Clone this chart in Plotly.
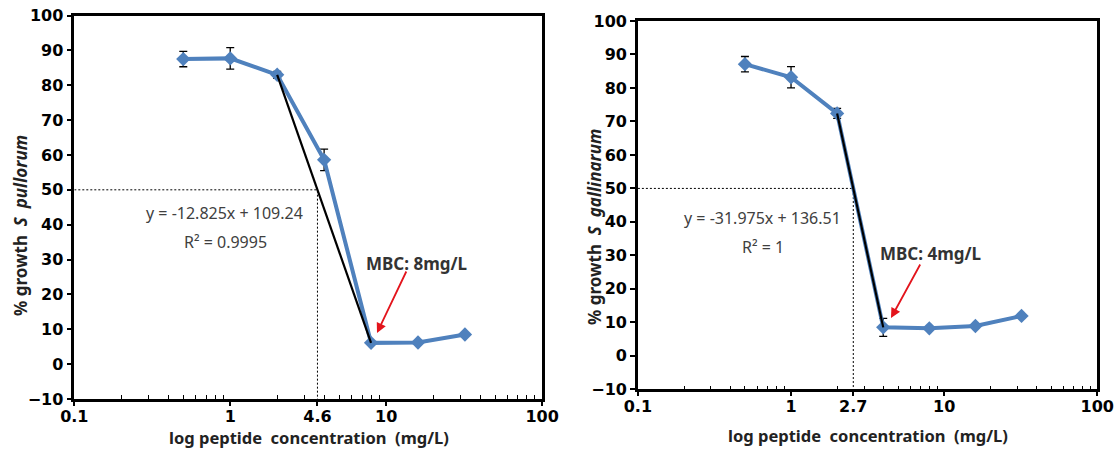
import math
import plotly.graph_objects as go

# Peptide concentrations (mg/L) tested against each strain
conc = [0.5, 1, 2, 4, 8, 16, 32]

# S. pullorum: mean % growth and error
pullorum_growth = [87.5, 87.7, 83.0, 58.6, 6.1, 6.2, 8.5]
pullorum_err = [2.2, 3.1, 1.0, 3.1, 0, 0, 0]
pullorum_fit = {"slope": -12.825, "intercept": 109.24, "r2": "0.9995"}
pullorum_fit_idx = (2, 4)          # points the trend segment spans (2 and 8 mg/L)
pullorum_mbc = "MBC: 8mg/L"

# S. gallinarum: mean % growth and error
gallinarum_growth = [87.1, 83.2, 72.4, 8.5, 8.2, 8.9, 11.9]
gallinarum_err = [2.3, 3.2, 1.5, 2.7, 0, 0, 0]
gallinarum_fit = {"slope": -31.975, "intercept": 136.51, "r2": "1"}
gallinarum_fit_idx = (2, 3)        # 2 and 4 mg/L
gallinarum_mbc = "MBC: 4mg/L"

W, H = 1115, 460
BLUE = "#4F81BD"
TXT = "#404040"
TICK_FONT = dict(family="DejaVu Sans", size=16, color="black", weight=700)
SANS = "Noto Sans"

minor_vals = [m * 10 ** e for e in (-1, 0, 1) for m in range(2, 10)]


def px(x):
    return x / W


def py(y):
    return 1 - y / H


def half_crossing(xs, ys, i0, i1):
    """Where the straight trend segment (log-x) crosses 50 % growth."""
    l0, l1 = math.log10(xs[i0]), math.log10(xs[i1])
    f = (ys[i0] - 50) / (ys[i0] - ys[i1])
    return 10 ** (l0 + f * (l1 - l0))


def label(text, pos, font, **kw):
    return dict(text=text, x=px(pos[0]), y=py(pos[1]), xref="paper", yref="paper",
                xanchor="center", yanchor="middle", showarrow=False, font=font, **kw)


fig = go.Figure()

panels = [
    dict(growth=pullorum_growth, err=pullorum_err, fit=pullorum_fit, idx=pullorum_fit_idx,
         mbc=pullorum_mbc, species="S  pullorum", xa="x", ya="y",
         xdom=[74.3, 542.1], ydom=[399, 15.5],
         eq_pos=(224, 213), r2_pos=(225, 242), mbc_pos=(416, 263),
         arrow_head=(377, 333), arrow_off=(30, -63),
         ytitle=(20, 226), xtitle=(309, 437)),
    dict(growth=gallinarum_growth, err=gallinarum_err, fit=gallinarum_fit, idx=gallinarum_fit_idx,
         mbc=gallinarum_mbc, species="S  gallinarum", xa="x2", ya="y2",
         xdom=[637.9, 1097.3], ydom=[389.3, 21],
         eq_pos=(762, 218), r2_pos=(763, 247), mbc_pos=(930, 253),
         arrow_head=(891, 318), arrow_off=(30, -55),
         ytitle=(595, 227), xtitle=(868, 435)),
]

annotations = []
layout_axes = {}

for k, p in enumerate(panels):
    g, e = p["growth"], p["err"]
    i0, i1 = p["idx"]
    xc = half_crossing(conc, g, i0, i1)
    x50_label = f"{(p['fit']['intercept'] - 50) / -p['fit']['slope']:.1f}"

    # dashed guide lines at 50 % growth
    fig.add_trace(go.Scatter(
        x=[0.1, xc, xc], y=[50, 50, -10], mode="lines",
        line=dict(color="black", width=1, dash="2px,2px"),
        xaxis=p["xa"], yaxis=p["ya"], hoverinfo="skip", showlegend=False))

    # measured growth with error bars
    fig.add_trace(go.Scatter(
        x=conc, y=g, mode="lines+markers",
        line=dict(color=BLUE, width=4),
        marker=dict(symbol="diamond", size=11, color=BLUE),
        error_y=dict(type="data", array=e, visible=True, color="black",
                     thickness=1.3, width=4),
        xaxis=p["xa"], yaxis=p["ya"], showlegend=False))

    # linear trend segment over the steep part of the curve
    fig.add_trace(go.Scatter(
        x=[conc[i0], conc[i1]], y=[g[i0], g[i1]], mode="lines",
        line=dict(color="black", width=2.2),
        xaxis=p["xa"], yaxis=p["ya"], hoverinfo="skip", showlegend=False))

    sfx = "" if k == 0 else "2"
    layout_axes["xaxis" + sfx] = dict(
        type="log", range=[-1, 2], domain=[px(p["xdom"][0]), px(p["xdom"][1])],
        anchor="y" + sfx, tickmode="array",
        tickvals=[0.1, 1, xc, 10, 100], ticktext=["0.1", "1", x50_label, "10", "100"],
        ticks="outside", ticklen=4, tickwidth=1.5, tickcolor="black",
        ticklabelstandoff=-3,
        minor=dict(tickmode="array", tickvals=minor_vals, ticks="inside",
                   ticklen=4, tickcolor="black", tickwidth=1),
        showline=True, linewidth=2.5, linecolor="black", mirror=True,
        showgrid=False, zeroline=False, tickfont=TICK_FONT, automargin=False)
    layout_axes["yaxis" + sfx] = dict(
        range=[-10, 100], dtick=10, domain=[py(p["ydom"][0]), py(p["ydom"][1])],
        anchor="x" + sfx, ticks="outside", ticklen=5, tickwidth=1.5, tickcolor="black",
        showline=True, linewidth=2.5, linecolor="black", mirror=True,
        showgrid=False, zeroline=False, tickfont=TICK_FONT, automargin=False)

    fit = p["fit"]
    eq = f"y = {fit['slope']}x + {fit['intercept']}"
    eq_font = dict(family=SANS, size=16, color=TXT, weight=400)
    bold_font = dict(family=SANS, size=16.5, color="#222222", weight=700)
    annotations += [
        label(eq, p["eq_pos"], eq_font),
        label(f"R² = {fit['r2']}", p["r2_pos"], eq_font),
        label(p["mbc"], p["mbc_pos"], dict(family=SANS, size=17, color="#333333", weight=700)),
        dict(text="", x=px(p["arrow_head"][0]), y=py(p["arrow_head"][1]),
             xref="paper", yref="paper", showarrow=True,
             ax=p["arrow_off"][0], ay=p["arrow_off"][1],
             arrowhead=2, arrowsize=1.1, arrowwidth=1.8, arrowcolor="#E3141C"),
        label(f"% growth  <i>{p['species']}</i>", p["ytitle"],
              dict(family=SANS, size=17, color="#222222", weight=700), textangle=-90),
        label("log peptide  concentration  (mg/L)", p["xtitle"], bold_font),
    ]

fig.update_layout(
    width=W, height=H,
    margin=dict(l=0, r=0, t=0, b=0),
    font=TICK_FONT,
    paper_bgcolor="white", plot_bgcolor="white",
    annotations=annotations,
    **layout_axes,
)

fig.write_html("out.html")
